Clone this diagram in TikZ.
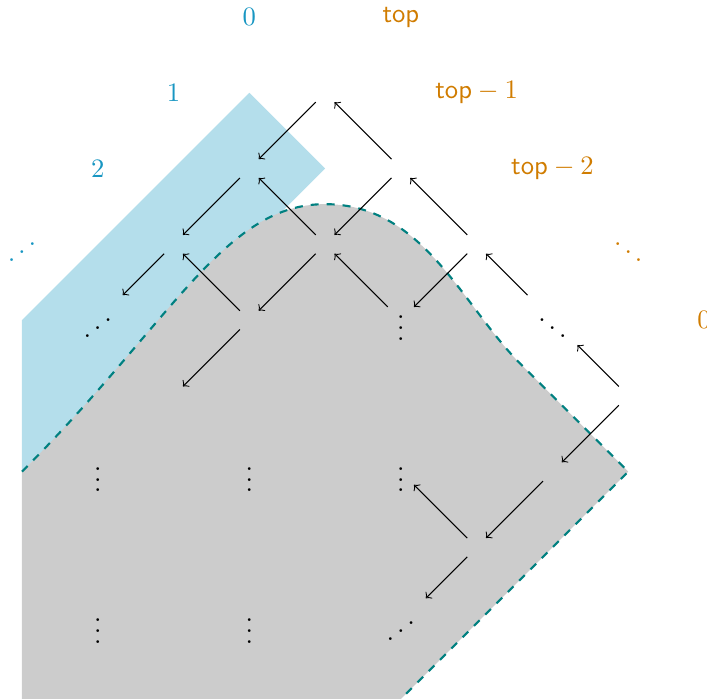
\documentclass[tikz,border=0pt]{standalone}
\definecolor{bluetext}{RGB}{24,150,194}
\definecolor{bluefill}{RGB}{180,222,235}
\definecolor{orangetext}{RGB}{208,124,0}
\definecolor{grayfill}{RGB}{204,204,204}
\definecolor{dashteal}{RGB}{0,128,128}
\begin{document}
\begin{tikzpicture}[x=1cm,y=1cm,
  cell/.style={inner sep=3.33pt},
  dotnode/.style={},
  lblue/.style={text=bluetext},
  lorange/.style={text=orangetext},
  arr/.style={->, line width=0.4pt, black}]
\useasboundingbox (-0.29,0.224) rectangle (9.04,-9.0);
% regions
\fill[bluefill] (0,-4) -- (3,-1) -- (4,-2) -- (0,-6) -- cycle;
\fill[grayfill] (0,-6) .. controls (2,-4) and (2.67,-2.47) .. (4,-2.47)
  .. controls (5.31,-2.47) and (5.81,-3.82) .. (6.6,-4.6) -- (8,-6) -- (5,-9) -- (0,-9) -- cycle;
\draw[dashteal, thick, dashed] (0,-6) .. controls (2,-4) and (2.67,-2.47) .. (4,-2.47)
  .. controls (5.31,-2.47) and (5.81,-3.82) .. (6.6,-4.6) -- (8,-6) -- (5,-9);
% labels
\node[lblue] (b0) at (3,0) {$0$};
\node[lblue] (b1) at (2,-1) {$1$};
\node[lblue] (b2) at (1,-2) {$2$};
\node[lblue] (b3) at (0,-3) {\reflectbox{$\ddots$}};
\node[lorange] (o0) at (5,0) {$\mathsf{top}$};
\node[lorange] (o1) at (6,-1) {$\mathsf{top}-1$};
\node[lorange] (o2) at (7,-2) {$\mathsf{top}-2$};
\node[lorange] (o3) at (8,-3) {$\ddots$};
\node[lorange] (o4) at (9,-4) {$0$};
% empty cells
\node[cell] (c14) at (4,-1) {};
\node[cell] (c23) at (3,-2) {};
\node[cell] (c25) at (5,-2) {};
\node[cell] (c32) at (2,-3) {};
\node[cell] (c34) at (4,-3) {};
\node[cell] (c36) at (6,-3) {};
\node[cell] (c43) at (3,-4) {};
\node[cell] (c52) at (2,-5) {};
\node[cell] (c58) at (8,-5) {};
\node[cell] (c67) at (7,-6) {};
\node[cell] (c76) at (6,-7) {};
% dots
\node[dotnode] (d41) at (1,-4) {\reflectbox{$\ddots$}};
\node[dotnode] (d45) at (5,-4) {$\vdots$};
\node[dotnode] (d47) at (7,-4) {$\ddots$};
\node[dotnode] (d61) at (1,-6) {$\vdots$};
\node[dotnode] (d63) at (3,-6) {$\vdots$};
\node[dotnode] (d65) at (5,-6) {$\vdots$};
\node[dotnode] (d81) at (1,-8) {$\vdots$};
\node[dotnode] (d83) at (3,-8) {$\vdots$};
\node[dotnode] (d85) at (5,-8) {\reflectbox{$\ddots$}};
% arrows
\draw[arr] (c14) -- (c23);
\draw[arr] (c25) -- (c14);
\draw[arr] (c23) -- (c32);
\draw[arr] (c34) -- (c23);
\draw[arr] (c25) -- (c34);
\draw[arr] (c36) -- (c25);
\draw[arr] (c32) -- (d41);
\draw[arr] (c43) -- (c32);
\draw[arr] (c34) -- (c43);
\draw[arr] (d45) -- (c34);
\draw[arr] (c36) -- (d45);
\draw[arr] (d47) -- (c36);
\draw[arr] (c43) -- (c52);
\draw[arr] (c58) -- (d47);
\draw[arr] (c58) -- (c67);
\draw[arr] (c67) -- (c76);
\draw[arr] (c76) -- (d65);
\draw[arr] (c76) -- (d85);
\end{tikzpicture}
\end{document}
